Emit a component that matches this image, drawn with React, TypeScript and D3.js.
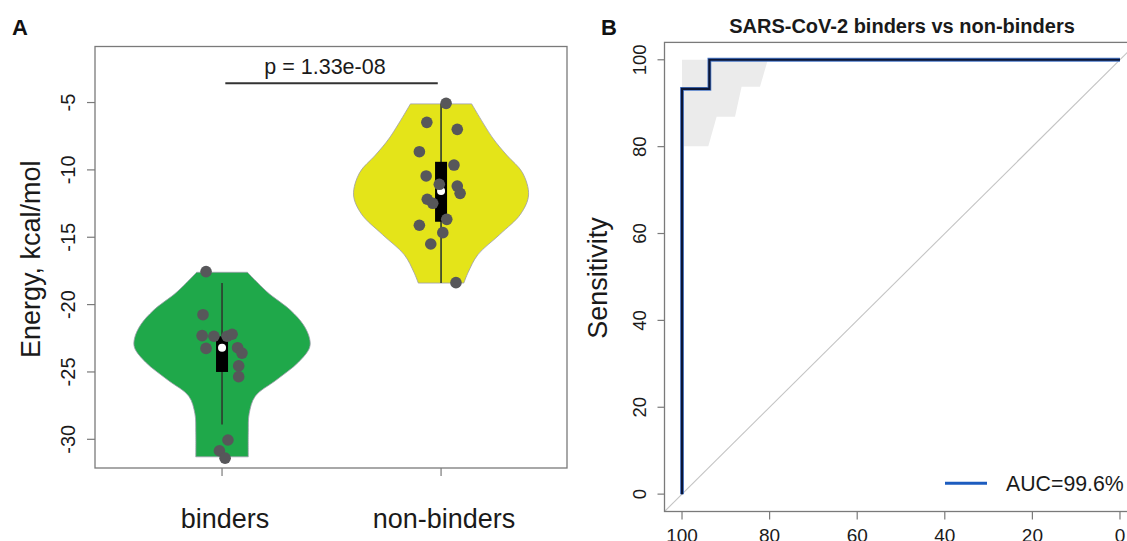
import * as d3 from "d3";
import { useEffect, useRef } from "react";

// ---- panel A: energies ----
const groups = ["binders", "non-binders"];

const binderEnergy = [-17.55, -20.75, -22.3, -22.35, -22.35, -22.2, -23.25, -23.2, -23.6, -24.55, -25.35, -30.05, -30.85, -31.4];
const binderJitter = [-0.073, -0.087, -0.091, -0.037, 0.023, 0.046, -0.073, 0.071, 0.091, 0.076, 0.076, 0.027, -0.012, 0.014];

const nonBinderEnergy = [-5.06, -6.47, -6.99, -8.65, -9.64, -10.45, -11.07, -11.2, -11.74, -12.18, -12.48, -13.67, -14.11, -14.66, -15.5, -18.37];
const nonBinderJitter = [0.023, -0.065, 0.074, -0.099, 0.059, -0.068, -0.008, 0.074, 0.087, -0.063, -0.038, 0.026, -0.099, 0.008, -0.047, 0.068];

// violin outline: energy level and relative density
const binderLevels = [-17.6, -18.4, -19.2, -20.4, -21.5, -22.5, -23.2, -24.3, -25.6, -26.8, -28.1, -29.5, -31.3];
const binderDensity = [0.29, 0.41, 0.54, 0.78, 0.93, 1.0, 1.0, 0.87, 0.62, 0.38, 0.31, 0.3, 0.3];
const nonBinderLevels = [-5.1, -7.63, -8.9, -10.2, -11.86, -13.27, -14.8, -16.3, -17.6, -18.4];
const nonBinderDensity = [0.35, 0.59, 0.75, 0.93, 1.0, 0.91, 0.67, 0.42, 0.31, 0.26];

// [lower whisker, q1, median, q3, upper whisker]
const binderBox = [-28.9, -25.0, -23.2, -22.35, -18.4];
const nonBinderBox = [-18.4, -13.85, -11.57, -9.4, -5.1];

const energyTicks = [-5, -10, -15, -20, -25, -30];
const pValueLabel = "p = 1.33e-08";

// ---- panel B: ROC ----
const rocSpecificity = [100, 100, 93.75, 93.75, 0];
const rocSensitivity = [0, 93.3, 93.3, 100, 100];
const ciSpecificity = [100, 94, 92.1, 87.9, 86.4, 82.2, 80.4];
const ciLower = [80.1, 80.1, 86.9, 86.9, 93.8, 93.8, 100];
const ciUpper = [100, 100, 100, 100, 100, 100, 100];
const rocTicks = [100, 80, 60, 40, 20, 0];
const aucLabel = "AUC=99.6%";
const rocTitle = "SARS-CoV-2 binders vs non-binders";

const FONT = "'Liberation Sans', Arial, Helvetica, sans-serif";

export default function App() {
  const ref = useRef<SVGSVGElement>(null);

  useEffect(() => {
    if (!ref.current) return;
    const svg = d3.select(ref.current);
    svg.selectAll("*").remove();

    const width = 1127;
    const height = 541;
    svg.attr("width", width).attr("height", height).attr("font-family", FONT);

    svg.append("rect").attr("width", width).attr("height", height).attr("fill", "#fff");

    // ================= Panel A =================
    const A = { left: 95, right: 567, top: 46.5, bottom: 468 };
    const xA = d3.scaleLinear().domain([0.42, 2.575]).range([A.left, A.right]);
    const yA = d3.scaleLinear().domain([-32.13, -0.84]).range([A.bottom, A.top]);
    const wScale = d3.scaleLinear().domain([0, 1]).range([0, 87.5]);

    const gA = svg.append("g");

    const violin = (cx: number) =>
      d3.area<[number, number]>()
        .y(d => yA(d[0]))
        .x0(d => cx - wScale(d[1]))
        .x1(d => cx + wScale(d[1]))
        .curve(d3.curveCatmullRom.alpha(0.5));

    const sets = [
      { levels: binderLevels, dens: binderDensity, box: binderBox, pts: binderEnergy, jit: binderJitter, fill: "#1fa84a" },
      { levels: nonBinderLevels, dens: nonBinderDensity, box: nonBinderBox, pts: nonBinderEnergy, jit: nonBinderJitter, fill: "#e4e419" },
    ];

    sets.forEach((s, i) => {
      const cx = xA(i + 1);
      const prof = s.levels.map((l, j) => [l, s.dens[j]] as [number, number]);
      gA.append("path")
        .attr("d", violin(cx)(prof))
        .attr("fill", s.fill)
        .attr("stroke", "#9c9cab")
        .attr("stroke-width", 0.8);

      // whisker
      gA.append("line")
        .attr("x1", cx).attr("x2", cx)
        .attr("y1", yA(s.box[0])).attr("y2", yA(s.box[4]))
        .attr("stroke", "#2f3a2f")
        .attr("stroke-width", 1.6);

      // box
      gA.append("rect")
        .attr("x", cx - 6)
        .attr("width", 12)
        .attr("y", yA(s.box[3]))
        .attr("height", yA(s.box[1]) - yA(s.box[3]))
        .attr("fill", "#000");

      // median
      gA.append("circle")
        .attr("cx", cx).attr("cy", yA(s.box[2]))
        .attr("r", 4)
        .attr("fill", "#fff");

      // points
      gA.selectAll(null)
        .data(s.pts)
        .enter()
        .append("circle")
        .attr("cx", (d, j) => xA(i + 1 + s.jit[j]))
        .attr("cy", d => yA(d))
        .attr("r", 5.8)
        .attr("fill", "#57575a");
    });

    // frame
    gA.append("rect")
      .attr("x", A.left).attr("y", A.top)
      .attr("width", A.right - A.left).attr("height", A.bottom - A.top)
      .attr("fill", "none")
      .attr("stroke", "#7a7a7a")
      .attr("stroke-width", 1.3);

    // y axis
    energyTicks.forEach(t => {
      gA.append("line")
        .attr("x1", A.left - 8).attr("x2", A.left)
        .attr("y1", yA(t)).attr("y2", yA(t))
        .attr("stroke", "#7a7a7a").attr("stroke-width", 1.2);
      gA.append("text")
        .attr("transform", `translate(75,${yA(t)}) rotate(-90)`)
        .attr("text-anchor", "middle")
        .attr("font-size", 20)
        .attr("fill", "#1a1a1a")
        .text(t);
    });

    // x axis
    groups.forEach((g, i) => {
      const cx = xA(i + 1);
      gA.append("line")
        .attr("x1", cx).attr("x2", cx)
        .attr("y1", A.bottom).attr("y2", A.bottom + 8)
        .attr("stroke", "#7a7a7a").attr("stroke-width", 1.2);
      gA.append("text")
        .attr("x", cx + 3)
        .attr("y", 528)
        .attr("text-anchor", "middle")
        .attr("font-size", 27)
        .attr("fill", "#1a1a1a")
        .text(g);
    });

    gA.append("text")
      .attr("transform", `translate(40,${(A.top + A.bottom) / 2 + 2}) rotate(-90)`)
      .attr("text-anchor", "middle")
      .attr("font-size", 27)
      .attr("fill", "#1a1a1a")
      .text("Energy, kcal/mol");

    // p-value bracket
    gA.append("line")
      .attr("x1", xA(1.015)).attr("x2", xA(1.985))
      .attr("y1", yA(-3.57)).attr("y2", yA(-3.57))
      .attr("stroke", "#333").attr("stroke-width", 2);
    gA.append("text")
      .attr("x", xA(1.47))
      .attr("y", yA(-3.57) - 9)
      .attr("text-anchor", "middle")
      .attr("font-size", 21.5)
      .attr("fill", "#1a1a1a")
      .text(pValueLabel);

    svg.append("text")
      .attr("x", 12).attr("y", 34.5)
      .attr("font-size", 22).attr("font-weight", "bold")
      .attr("fill", "#111")
      .text("A");

    // ================= Panel B =================
    const B = { left: 664.5, right: 1137.5, top: 42.4, bottom: 511.5 };
    const xB = d3.scaleLinear().domain([104, -4]).range([B.left, B.right]);
    const yB = d3.scaleLinear().domain([-4, 104]).range([B.bottom, B.top]);

    const gB = svg.append("g");

    const clip = svg.append("defs").append("clipPath").attr("id", "clipB");
    clip.append("rect")
      .attr("x", B.left).attr("y", B.top)
      .attr("width", B.right - B.left).attr("height", B.bottom - B.top);

    const ciData = ciSpecificity.map((s, i) => ({ s, lo: ciLower[i], hi: ciUpper[i] }));
    gB.append("path")
      .attr("d", d3.area<{ s: number; lo: number; hi: number }>()
        .x(d => xB(d.s))
        .y0(d => yB(d.lo))
        .y1(d => yB(d.hi))(ciData))
      .attr("fill", "#ebebeb");

    // chance diagonal
    gB.append("line")
      .attr("clip-path", "url(#clipB)")
      .attr("x1", xB(104)).attr("y1", yB(-4))
      .attr("x2", xB(-4)).attr("y2", yB(104))
      .attr("stroke", "#c4c4c4").attr("stroke-width", 1.1);

    const rocData = rocSpecificity.map((s, i) => [s, rocSensitivity[i]] as [number, number]);
    const rocLine = d3.line<[number, number]>().x(d => xB(d[0])).y(d => yB(d[1]));
    gB.append("path")
      .attr("d", rocLine(rocData))
      .attr("fill", "none")
      .attr("stroke", "#4a78c8")
      .attr("stroke-width", 3.8);
    gB.append("path")
      .attr("d", rocLine(rocData))
      .attr("fill", "none")
      .attr("stroke", "#0b1636")
      .attr("stroke-width", 2.2);

    gB.append("rect")
      .attr("x", B.left).attr("y", B.top)
      .attr("width", B.right - B.left).attr("height", B.bottom - B.top)
      .attr("fill", "none")
      .attr("stroke", "#7a7a7a")
      .attr("stroke-width", 1.3);

    rocTicks.forEach(t => {
      gB.append("line")
        .attr("x1", B.left - 7).attr("x2", B.left)
        .attr("y1", yB(t)).attr("y2", yB(t))
        .attr("stroke", "#7a7a7a").attr("stroke-width", 1.2);
      gB.append("text")
        .attr("transform", `translate(646,${yB(t)}) rotate(-90)`)
        .attr("text-anchor", "middle")
        .attr("font-size", 18.5)
        .attr("fill", "#1a1a1a")
        .text(t);

      gB.append("line")
        .attr("x1", xB(t)).attr("x2", xB(t))
        .attr("y1", B.bottom).attr("y2", B.bottom + 8)
        .attr("stroke", "#7a7a7a").attr("stroke-width", 1.2);
      gB.append("text")
        .attr("x", xB(t))
        .attr("y", 542)
        .attr("text-anchor", "middle")
        .attr("font-size", 19)
        .attr("fill", "#1a1a1a")
        .text(t);
    });

    gB.append("text")
      .attr("transform", `translate(607,${(B.top + B.bottom) / 2 + 1}) rotate(-90)`)
      .attr("text-anchor", "middle")
      .attr("font-size", 27)
      .attr("fill", "#1a1a1a")
      .text("Sensitivity");

    gB.append("text")
      .attr("x", 902).attr("y", 33)
      .attr("text-anchor", "middle")
      .attr("font-size", 20)
      .attr("font-weight", "bold")
      .attr("fill", "#1a1a1a")
      .text(rocTitle);

    // legend
    gB.append("line")
      .attr("x1", 945).attr("x2", 987)
      .attr("y1", 483.3).attr("y2", 483.3)
      .attr("stroke", "#1c5cbf").attr("stroke-width", 3);
    gB.append("text")
      .attr("x", 1006).attr("y", 490.7)
      .attr("font-size", 21.3)
      .attr("fill", "#1a1a1a")
      .text(aucLabel);

    svg.append("text")
      .attr("x", 601).attr("y", 34.5)
      .attr("font-size", 22).attr("font-weight", "bold")
      .attr("fill", "#111")
      .text("B");
  }, []);

  return (
    <svg
      ref={ref}
      style={{ position: "absolute", left: 0, top: 0, display: "block" }}
    />
  );
}
